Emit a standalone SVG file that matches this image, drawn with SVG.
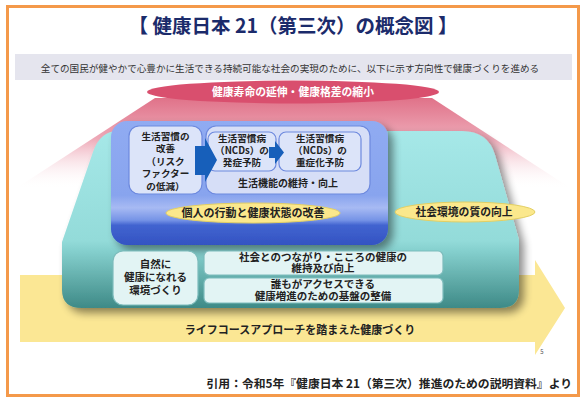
<svg xmlns="http://www.w3.org/2000/svg" width="586" height="403" viewBox="0 0 586 403">
<defs>
<style>
text{font-family:"Noto Sans CJK JP","Noto Sans",sans-serif;text-anchor:middle;}
.t{font-size:10px;font-weight:bold;fill:#222;}
.s{font-size:9.6px;}
.box{fill:#dce4f9;stroke:#6d89de;stroke-width:1.2;}
.lbox{fill:#e2f4f4;stroke:#7dbcbc;stroke-width:1.2;}
.ell{fill:#fbe88c;stroke:#e3cf63;stroke-width:1;}
.arr{fill:#175fba;}
</style>
<linearGradient id="fan" x1="0" y1="0" x2="0" y2="1">
<stop offset="0" stop-color="#e07289"/>
<stop offset="0.45" stop-color="#eeaab8"/>
<stop offset="1" stop-color="#ffffff" stop-opacity="0"/>
</linearGradient>
<linearGradient id="teal" x1="0" y1="0" x2="0" y2="1">
<stop offset="0" stop-color="#a6e8e8"/>
<stop offset="0.62" stop-color="#93dbd9"/>
<stop offset="0.68" stop-color="#84cfcd"/>
<stop offset="0.85" stop-color="#5faaa7"/>
<stop offset="1" stop-color="#3e8a87"/>
</linearGradient>
<linearGradient id="blue" x1="0" y1="0" x2="0" y2="1">
<stop offset="0" stop-color="#90abf2"/>
<stop offset="0.6" stop-color="#88a4ee"/>
<stop offset="0.7" stop-color="#a7baf3"/>
<stop offset="0.8" stop-color="#7593e6"/>
<stop offset="0.84" stop-color="#4264d0"/>
<stop offset="1" stop-color="#3353c2"/>
</linearGradient>
<filter id="sh" x="-10%" y="-10%" width="125%" height="130%">
<feGaussianBlur in="SourceAlpha" stdDeviation="4"/>
<feOffset dx="5" dy="5" result="b"/>
<feComponentTransfer><feFuncA type="linear" slope="0.45"/></feComponentTransfer>
<feMerge><feMergeNode/><feMergeNode in="SourceGraphic"/></feMerge>
</filter>
</defs>
<rect x="0" y="0" width="586" height="403" fill="#ffffff"/>
<rect x="7.5" y="6.5" width="571" height="389" fill="none" stroke="#f4994a" stroke-width="3"/>

<g id="title">
<text x="293" y="33" style="font-size:19.5px;font-weight:bold;fill:#1b2b6b">【 健康日本 21（第三次）の概念図 】</text>
</g>

<g id="vision">
<rect x="15" y="54" width="557" height="26" fill="#e5e5ee"/>
<text x="290" y="72" style="font-size:9.6px;fill:#333">全ての国民が健やかで心豊かに生活できる持続可能な社会の実現のために、以下に示す方向性で健康づくりを進める</text>
</g>

<g id="fan">
<polygon points="155,98 432,98 572,189 15,189" fill="url(#fan)"/>
</g>

<g id="goal">
<ellipse cx="293" cy="92" rx="146" ry="11.5" fill="#d94f6e"/>
<text x="293" y="96" style="font-size:10.8px;font-weight:bold;fill:#fff">健康寿命の延伸・健康格差の縮小</text>
</g>

<g id="lifecourse">
<polygon points="20,275 535,275 535,260 565,308 535,355 535,342 20,342" fill="#fbe794"/>
<text x="300" y="334" class="t" style="font-size:11px">ライフコースアプローチを踏まえた健康づくり</text>
</g>

<g id="social-platform">
<path d="M118,131 L462,131 Q488,131 495,155 L519,240 L519,290 Q519,308 500,308 L82,308 Q62,308 62,290 L62,242 L93,152 Q100,131 118,131 Z" fill="url(#teal)" filter="url(#sh)"/>
</g>

<g id="individual-block">
<rect x="111" y="121" width="277" height="124" rx="16" fill="url(#blue)" filter="url(#sh)"/>
</g>

<g id="lifestyle">
<rect class="box" x="129" y="126" width="73" height="68" rx="10"/>
<text class="t s"><tspan x="165.5" y="139.5">生活習慣の</tspan><tspan x="165.5" y="152">改善</tspan><tspan x="165.5" y="164.5">（リスク</tspan><tspan x="165.5" y="177">ファクター</tspan><tspan x="165.5" y="189.5">の低減）</tspan></text>
</g>

<g id="function">
<rect class="box" x="206" y="126" width="164" height="68" rx="10" style="fill:#d6def7"/>
<text class="t" x="288" y="187">生活機能の維持・向上</text>
</g>

<g id="onset">
<rect class="box" x="208" y="132" width="68" height="39" rx="7"/>
<text class="t s"><tspan x="242" y="142">生活習慣病</tspan><tspan x="242" y="154">（NCDs）の</tspan><tspan x="242" y="166">発症予防</tspan></text>
</g>

<g id="severity">
<rect class="box" x="279" y="132" width="82" height="39" rx="7"/>
<text class="t s"><tspan x="320" y="142">生活習慣病</tspan><tspan x="320" y="154">（NCDs）の</tspan><tspan x="320" y="166">重症化予防</tspan></text>
</g>

<g id="connectors">
<polygon class="arr" points="195,146 205,146 205,138 217,160 205,182 205,175 195,175"/>
<polygon class="arr" points="269,147 275,147 275,141 284,152.5 275,164 275,158 269,158"/>
</g>

<g id="individual-label">
<ellipse class="ell" cx="253" cy="213" rx="87" ry="10"/>
<text class="t" x="253" y="217" style="font-size:11px">個人の行動と健康状態の改善</text>
</g>

<g id="social-label">
<ellipse class="ell" cx="465" cy="212" rx="70" ry="10"/>
<text class="t" x="464" y="216" style="font-size:10.8px">社会環境の質の向上</text>
</g>

<g id="environment">
<rect class="lbox" x="113" y="251" width="85" height="54" rx="10"/>
<text class="t" style="font-size:10.5px"><tspan x="155.5" y="268">自然に</tspan><tspan x="155.5" y="281">健康になれる</tspan><tspan x="155.5" y="294">環境づくり</tspan></text>
</g>

<g id="connection">
<rect class="lbox" x="204" y="251" width="239" height="24" rx="5"/>
<text class="t" style="font-size:10.5px"><tspan x="323" y="261">社会とのつながり・こころの健康の</tspan><tspan x="323" y="272">維持及び向上</tspan></text>
</g>

<g id="foundation">
<rect class="lbox" x="204" y="278" width="239" height="25" rx="5"/>
<text class="t" style="font-size:10.5px"><tspan x="323" y="288">誰もがアクセスできる</tspan><tspan x="323" y="300">健康増進のための基盤の整備</tspan></text>
</g>

<g id="page">
<text x="542" y="354" style="font-size:6px;fill:#555">5</text>
</g>

<g id="citation">
<text x="572" y="388" style="font-size:11.8px;font-weight:bold;fill:#222;text-anchor:end">引用：令和5年『健康日本 21（第三次）推進のための説明資料』より</text>
</g>
</svg>
